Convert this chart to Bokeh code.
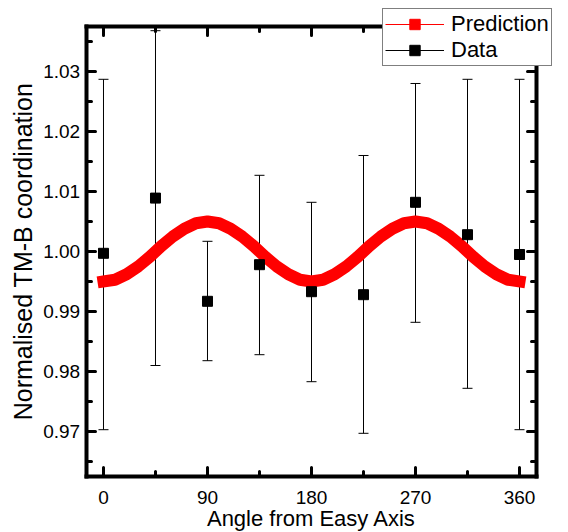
from bokeh.plotting import figure
from bokeh.models import (Range1d, FixedTicker, LinearAxis, Whisker, TeeHead,
                          ColumnDataSource, Legend, LegendItem, PrintfTickFormatter,
                          CustomJSTickFormatter)
from bokeh.embed import file_html
from bokeh.resources import INLINE

# ---- data ----
angles = [0, 45, 90, 135, 180, 225, 270, 315, 360]
norm_coord = [0.9997, 1.0089, 0.9917, 0.9978, 0.9933, 0.9928, 1.0082, 1.0028, 0.9995]
err_upper = [1.0287, 1.0368, 1.0017, 1.0127, 1.0082, 1.0160, 1.0280, 1.0287, 1.0287]
err_lower = [0.9703, 0.9810, 0.9818, 0.9828, 0.9783, 0.9697, 0.9882, 0.9772, 0.9703]

pred_angle = [0, 10, 20, 30, 40, 50, 60, 70, 80, 90, 100, 110, 120, 130, 140, 150, 160, 170,
              180, 190, 200, 210, 220, 230, 240, 250, 260, 270, 280, 290, 300, 310, 320, 330,
              340, 350, 360]
pred_value = [0.9950, 0.9953, 0.9962, 0.9975, 0.9991, 1.0009, 1.0025, 1.0038, 1.0047, 1.0050,
              1.0047, 1.0038, 1.0025, 1.0009, 0.9991, 0.9975, 0.9962, 0.9953,
              0.9950, 0.9953, 0.9962, 0.9975, 0.9991, 1.0009, 1.0025, 1.0038, 1.0047, 1.0050,
              1.0047, 1.0038, 1.0025, 1.0009, 0.9991, 0.9975, 0.9962, 0.9953, 0.9950]

x_ticks = [0, 90, 180, 270, 360]
x_minor = [45, 135, 225, 315]
y_ticks = [0.97, 0.98, 0.99, 1.00, 1.01, 1.02, 1.03]
y_minor = [0.965, 0.975, 0.985, 0.995, 1.005, 1.015, 1.025, 1.035]

# axes box limits (data units)
X_LO, X_HI = -15, 375
Y_LO, Y_HI = 0.9625, 1.0375

FONT = "Liberation Sans"

# the frame fills the whole canvas; the axes are drawn at fixed positions inside it
p = figure(width=568, height=532, x_range=Range1d(-89.13, 402.4),
           y_range=Range1d(0.953167, 1.041833),
           output_backend="svg", toolbar_location=None, x_axis_location=None, y_axis_location=None,
           min_border_left=0, min_border_right=0, min_border_top=0, min_border_bottom=0)
p.grid.visible = False
p.outline_line_color = None


def style(ax, show_labels=True):
    ax.axis_line_width = 4
    ax.axis_line_color = "black"
    ax.axis_line_cap = "square"
    ax.major_tick_in = 9
    ax.major_tick_out = 0
    ax.minor_tick_in = 5
    ax.minor_tick_out = 0
    ax.major_tick_line_width = 3
    ax.minor_tick_line_width = 3
    ax.major_tick_line_cap = "round"
    ax.minor_tick_line_cap = "round"
    ax.major_tick_line_color = "black"
    ax.minor_tick_line_color = "black"
    ax.major_label_text_font = FONT
    ax.major_label_text_color = "black"
    ax.major_label_text_font_size = "19px"
    if not show_labels:
        ax.formatter = CustomJSTickFormatter(code="return ''")


xt = FixedTicker(ticks=x_ticks, minor_ticks=x_minor)
yt = FixedTicker(ticks=y_ticks, minor_ticks=y_minor)

xa = LinearAxis(ticker=xt, fixed_location=Y_LO, bounds=(X_LO, X_HI))
style(xa)
xa.major_label_standoff = 14
xa.axis_label = "Angle from Easy Axis"
xa.axis_label_text_font = FONT
xa.axis_label_text_font_size = "22px"
xa.axis_label_text_font_style = "normal"
xa.axis_label_text_color = "black"
xa.axis_label_standoff = -1
p.add_layout(xa, "below")

ya = LinearAxis(ticker=yt, fixed_location=X_LO, bounds=(Y_LO, Y_HI),
                formatter=PrintfTickFormatter(format="%.2f"))
style(ya)
ya.major_label_standoff = 6
ya.axis_label = "Normalised TM-B coordination"
ya.axis_label_text_font = FONT
ya.axis_label_text_font_size = "25px"
ya.axis_label_text_font_style = "normal"
ya.axis_label_text_color = "black"
ya.axis_label_standoff = 4
p.add_layout(ya, "left")

top = LinearAxis(ticker=xt, fixed_location=Y_HI, bounds=(X_LO, X_HI))
style(top, False)
p.add_layout(top, "above")
right = LinearAxis(ticker=yt, fixed_location=X_HI, bounds=(Y_LO, Y_HI))
style(right, False)
p.add_layout(right, "right")

# prediction curve
p.line(pred_angle, pred_value, line_color="red", line_width=12, line_cap="square")

# data with error bars
src = ColumnDataSource(dict(x=angles, y=norm_coord, upper=err_upper, lower=err_lower))
w = Whisker(source=src, base="x", upper="upper", lower="lower", line_color="black", line_width=1,
            upper_head=TeeHead(size=10, line_color="black", line_width=1),
            lower_head=TeeHead(size=10, line_color="black", line_width=1))
p.add_layout(w)
p.scatter("x", "y", source=src, marker="square", size=10, color="black")

# legend proxies (no visible data)
nan = float("nan")
pl = p.line([nan], [nan], line_color="red", line_width=1)
ps = p.scatter([nan], [nan], marker="square", size=9, color="red")
dl = p.line([nan], [nan], line_color="black", line_width=1)
ds = p.scatter([nan], [nan], marker="square", size=9, color="black")

legend = Legend(items=[LegendItem(label="Prediction", renderers=[pl, ps]),
                       LegendItem(label="Data", renderers=[dl, ds])],
                location=(382, 466))
legend.border_line_color = "black"
legend.border_line_width = 1
legend.background_fill_color = "white"
legend.background_fill_alpha = 1
legend.label_text_font = FONT
legend.label_text_font_size = "22px"
legend.label_text_color = "black"
legend.glyph_width = 59
legend.glyph_height = 26
legend.label_height = 26
legend.label_standoff = 7
legend.padding = 2
legend.spacing = 0
legend.margin = 0
p.add_layout(legend)

open("out.html", "w").write(file_html(p, INLINE))
